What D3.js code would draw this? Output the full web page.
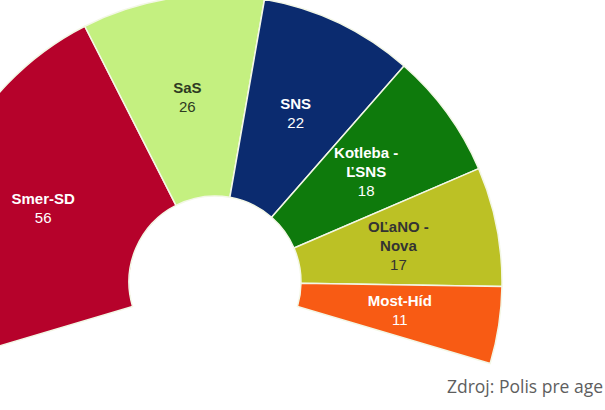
<!DOCTYPE html>
<html>
<head>
<meta charset="utf-8">
<script src="https://cdn.jsdelivr.net/npm/d3@7"></script>
<style>
  body { margin: 0; background: #fff; }
  svg { display: block; }
</style>
</head>
<body>
<svg></svg>
<script>
// seats per party
const parties = ["Smer-SD", "SaS", "SNS", "Kotleba -\nĽSNS", "OĽaNO -\nNova", "Most-Híd"];
const seats = [56, 26, 22, 18, 17, 11];
const colors = ["#b6022b", "#c4f080", "#0b2b6f", "#0e7a0c", "#bcc125", "#f85b14"];
const textColors = ["#fff", "#2e3a22", "#fff", "#fff", "#333", "#fff"];
const source = "Zdroj: Polis pre age";

const svg = d3.select("svg")
    .attr("width", 605)
    .attr("height", 410);

const cx = 215, cy = 282;
const g = svg.append("g")
    .attr("transform", `translate(${cx},${cy})`);

const data = parties.map((p, i) => ({name: p, seats: seats[i], color: colors[i], text: textColors[i]}));

const span = 106.5 * Math.PI / 180;
const pie = d3.pie()
    .sort(null)
    .startAngle(-span)
    .endAngle(span)
    .value(d => d.seats);

const arc = d3.arc()
    .innerRadius(86)
    .outerRadius(287);

const labelArc = d3.arc()
    .innerRadius(187)
    .outerRadius(187);

const arcs = pie(data);

g.selectAll(".slice")
    .data(arcs)
    .enter().append("path")
    .attr("class", "slice")
    .attr("d", arc)
    .attr("fill", d => d.data.color)
    .attr("stroke", "#f3f7e6")
    .attr("stroke-width", 1.5);

const lineH = 19;
const labels = g.selectAll(".label")
    .data(arcs)
    .enter().append("text")
    .attr("class", "label")
    .attr("text-anchor", "middle")
    .style("font-family", "'Liberation Sans', Arial, Helvetica, sans-serif")
    .style("font-size", "15px")
    .attr("fill", d => d.data.text);

labels.each(function(d) {
    const [x, y] = labelArc.centroid(d);
    const lines = d.data.name.split("\n").concat([String(d.data.seats)]);
    const y0 = y - (lines.length - 1) * lineH / 2 + 5;
    const t = d3.select(this);
    lines.forEach((l, i) => {
        t.append("tspan")
            .attr("x", x)
            .attr("y", y0 + i * lineH)
            .style("font-weight", i < lines.length - 1 ? "bold" : "normal")
            .text(l);
    });
});

svg.append("text")
    .attr("x", 603)
    .attr("y", 393)
    .attr("text-anchor", "end")
    .style("font-family", "'Open Sans', 'Noto Sans', sans-serif")
    .style("font-size", "17.5px")
    .attr("fill", "#5e5e5e")
    .text(source);
</script>
</body>
</html>
